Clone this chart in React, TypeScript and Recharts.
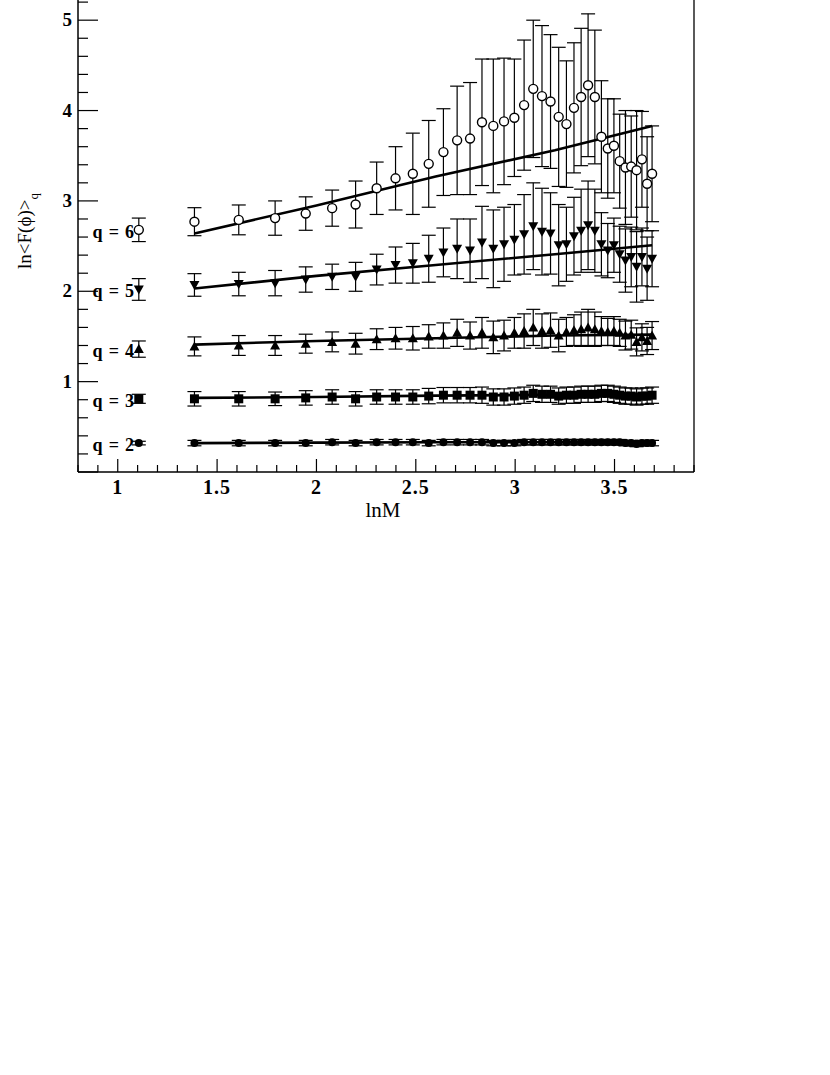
import { ComposedChart, Scatter, Line, XAxis, YAxis, ErrorBar, ReferenceLine } from 'recharts';

// lnM for M = 4 ... 40
const lnM = [1.386, 1.609, 1.792, 1.946, 2.079, 2.197, 2.303, 2.398, 2.485, 2.565, 2.639, 2.708, 2.773,
  2.833, 2.890, 2.944, 2.996, 3.045, 3.091, 3.135, 3.178, 3.219, 3.258, 3.296, 3.332, 3.367, 3.401,
  3.434, 3.466, 3.497, 3.526, 3.555, 3.584, 3.611, 3.638, 3.664, 3.689];

const q6 = [2.77, 2.79, 2.81, 2.86, 2.92, 2.96, 3.14, 3.25, 3.30, 3.41, 3.54, 3.67, 3.69, 3.87, 3.83, 3.88,
  3.92, 4.06, 4.24, 4.16, 4.10, 3.93, 3.85, 4.03, 4.15, 4.28, 4.15, 3.71, 3.58, 3.61, 3.44, 3.37, 3.38,
  3.34, 3.46, 3.19, 3.30];
const q6Err = [0.155, 0.165, 0.19, 0.185, 0.2, 0.26, 0.29, 0.35, 0.45, 0.48, 0.48, 0.6, 0.62, 0.7, 0.74, 0.7,
  0.65, 0.72, 0.76, 0.78, 0.74, 0.77, 0.7, 0.72, 0.76, 0.79, 0.74, 0.62, 0.55, 0.52, 0.52, 0.63, 0.56,
  0.66, 0.53, 0.52, 0.53];

const q5 = [2.07, 2.08, 2.09, 2.13, 2.16, 2.16, 2.24, 2.29, 2.31, 2.36, 2.43, 2.47, 2.45, 2.54, 2.47, 2.52,
  2.57, 2.63, 2.72, 2.66, 2.64, 2.51, 2.52, 2.61, 2.67, 2.73, 2.67, 2.52, 2.45, 2.51, 2.41, 2.34, 2.38,
  2.27, 2.38, 2.25, 2.36];
const q5Err = [0.125, 0.13, 0.14, 0.14, 0.14, 0.16, 0.17, 0.2, 0.22, 0.26, 0.27, 0.33, 0.35, 0.4, 0.43, 0.41,
  0.39, 0.44, 0.48, 0.48, 0.45, 0.45, 0.41, 0.43, 0.46, 0.49, 0.46, 0.35, 0.3, 0.3, 0.31, 0.35, 0.33,
  0.39, 0.32, 0.35, 0.31];

const q4 = [1.39, 1.40, 1.40, 1.42, 1.44, 1.42, 1.47, 1.48, 1.48, 1.50, 1.51, 1.54, 1.51, 1.54, 1.49, 1.51,
  1.54, 1.56, 1.60, 1.56, 1.57, 1.51, 1.55, 1.57, 1.58, 1.60, 1.58, 1.56, 1.55, 1.56, 1.54, 1.51, 1.52,
  1.44, 1.49, 1.45, 1.51];
const q4Err = [0.105, 0.11, 0.11, 0.105, 0.11, 0.115, 0.115, 0.12, 0.13, 0.13, 0.14, 0.15, 0.15, 0.17, 0.18,
  0.17, 0.17, 0.19, 0.2, 0.19, 0.19, 0.18, 0.16, 0.17, 0.19, 0.2, 0.19, 0.16, 0.15, 0.16, 0.15, 0.16,
  0.16, 0.155, 0.15, 0.15, 0.155];

const q3 = [0.81, 0.81, 0.81, 0.82, 0.83, 0.81, 0.83, 0.83, 0.83, 0.84, 0.85, 0.85, 0.85, 0.85, 0.83, 0.83,
  0.84, 0.85, 0.87, 0.86, 0.86, 0.84, 0.85, 0.85, 0.86, 0.86, 0.86, 0.87, 0.87, 0.86, 0.85, 0.84, 0.84,
  0.83, 0.84, 0.84, 0.85];
const q3Err = [0.08, 0.08, 0.075, 0.08, 0.08, 0.08, 0.08, 0.08, 0.08, 0.085, 0.085, 0.085, 0.085, 0.09, 0.09,
  0.09, 0.09, 0.09, 0.09, 0.09, 0.09, 0.09, 0.09, 0.09, 0.09, 0.09, 0.09, 0.09, 0.09, 0.09, 0.09, 0.09,
  0.09, 0.09, 0.09, 0.09, 0.09];

const q2 = [0.32, 0.32, 0.32, 0.32, 0.33, 0.32, 0.33, 0.33, 0.33, 0.32, 0.33, 0.33, 0.33, 0.33, 0.32, 0.32,
  0.32, 0.33, 0.33, 0.33, 0.33, 0.33, 0.33, 0.33, 0.33, 0.33, 0.33, 0.33, 0.33, 0.33, 0.33, 0.32, 0.32,
  0.31, 0.32, 0.32, 0.32];
const q2Err = [0.03, 0.03, 0.03, 0.03, 0.03, 0.03, 0.03, 0.03, 0.03, 0.03, 0.03, 0.03, 0.03, 0.03, 0.03,
  0.03, 0.03, 0.03, 0.03, 0.03, 0.03, 0.03, 0.03, 0.03, 0.03, 0.03, 0.03, 0.03, 0.03, 0.03, 0.03, 0.03,
  0.03, 0.03, 0.03, 0.03, 0.03];

// fitted curves
const fitX = [1.386, 2.0, 2.6, 3.2, 3.689];
const fit6 = [2.64, 2.95, 3.27, 3.56, 3.83];
const fit5 = [2.03, 2.17, 2.29, 2.41, 2.51];
const fit4 = [1.41, 1.45, 1.48, 1.51, 1.52];
const fit3 = [0.82, 0.83, 0.845, 0.855, 0.86];
const fit2 = [0.32, 0.325, 0.33, 0.33, 0.33];

// in-plot legend
const legendLabels = ['q = 6', 'q = 5', 'q = 4', 'q = 3', 'q = 2'];
const legendKinds = ['open', 'down', 'up', 'square', 'dot'];
const legendX = 1.106;
const legendY = [2.68, 2.02, 1.36, 0.81, 0.32];
const legendErr = [0.13, 0.12, 0.09, 0.05, 0.02];

const xTicks = [0.8, 0.9, 1, 1.1, 1.2, 1.3, 1.4, 1.5, 1.6, 1.7, 1.8, 1.9, 2, 2.1, 2.2, 2.3, 2.4, 2.5, 2.6,
  2.7, 2.8, 2.9, 3, 3.1, 3.2, 3.3, 3.4, 3.5, 3.6, 3.7, 3.8, 3.9];
const yTicks = [0, 0.2, 0.4, 0.6, 0.8, 1, 1.2, 1.4, 1.6, 1.8, 2, 2.2, 2.4, 2.6, 2.8, 3, 3.2, 3.4, 3.6, 3.8,
  4, 4.2, 4.4, 4.6, 4.8, 5, 5.2, 5.4];

const serif = '"Liberation Serif", "DejaVu Serif", serif';

const points = (ys: number[], es: number[]) => lnM.map((x, i) => ({ x, y: ys[i], e: es[i] }));
const line = (ys: number[]) => fitX.map((x, i) => ({ x, y: ys[i] }));

function Marker({ cx, cy, kind }: { cx: number; cy: number; kind: string }) {
  if (kind === 'open') return <circle cx={cx} cy={cy} r={4.5} fill="#fff" stroke="#000" strokeWidth={1.4} />;
  if (kind === 'down')
    return <polygon points={`${cx - 5},${cy - 4} ${cx + 5},${cy - 4} ${cx},${cy + 5}`} fill="#000" />;
  if (kind === 'up')
    return <polygon points={`${cx - 5},${cy + 4} ${cx + 5},${cy + 4} ${cx},${cy - 5}`} fill="#000" />;
  if (kind === 'square') return <rect x={cx - 4.5} y={cy - 4.5} width={9} height={9} fill="#000" />;
  return <circle cx={cx} cy={cy} r={4} fill="#000" />;
}

const shapeFor = (kind: string) => (p: any) => <Marker cx={p.cx} cy={p.cy} kind={kind} />;

const LegendShape = (p: any) => (
  <g>
    <Marker cx={p.cx} cy={p.cy} kind={p.payload.kind} />
    <text x={p.cx - 4} y={p.cy + 8} textAnchor="end" fontFamily={serif} fontWeight="bold" fontSize={18}
      letterSpacing={0.8} fill="#000">
      {p.payload.label}
    </text>
  </g>
);

const XTick = (p: any) => {
  const v = p.payload.value;
  const major = Math.abs(v * 2 - Math.round(v * 2)) < 1e-6;
  return (
    <g>
      <line x1={p.x} x2={p.x} y1={p.y} y2={p.y - (major ? 13 : 7)} stroke="#000" strokeWidth={1.2} />
      {major && (
        <text x={p.x} y={p.y + 22} textAnchor="middle" fontFamily={serif} fontWeight="bold" fontSize={20}
          letterSpacing={1} fill="#000">
          {String(v)}
        </text>
      )}
    </g>
  );
};

const YTick = (p: any) => {
  const v = p.payload.value;
  const major = Math.abs(v - Math.round(v)) < 1e-6;
  return (
    <g>
      <line x1={p.x} x2={p.x + (major ? 20 : 10)} y1={p.y} y2={p.y} stroke="#000" strokeWidth={1.2} />
      {major && v > 0 && (
        <text x={p.x - 6} y={p.y + 6} textAnchor="end" fontFamily={serif} fontWeight="bold" fontSize={19} fill="#000">
          {String(v)}
        </text>
      )}
    </g>
  );
};

const series = [
  { data: points(q6, q6Err), kind: 'open' },
  { data: points(q5, q5Err), kind: 'down' },
  { data: points(q4, q4Err), kind: 'up' },
  { data: points(q3, q3Err), kind: 'square' },
  { data: points(q2, q2Err), kind: 'dot' },
];
const fits = [fit6, fit5, fit4, fit3, fit2];
const legendRows = legendLabels.map((label, i) => ({
  x: legendX, y: legendY[i], e: legendErr[i], label, kind: legendKinds[i],
}));

export default function App() {
  return (
    <div style={{ position: 'absolute', left: 0, top: -40, background: '#fff' }}>
      <ComposedChart width={830} height={600} margin={{ top: 15, right: 136, bottom: 48, left: 0 }}>
        <XAxis
          type="number"
          dataKey="x"
          domain={[0.8, 3.9]}
          allowDataOverflow
          ticks={xTicks}
          interval={0}
          tick={<XTick />}
          tickLine={false}
          tickSize={0}
          tickMargin={0}
          axisLine={{ stroke: '#000', strokeWidth: 1.5 }}
          height={40}
        />
        <YAxis
          type="number"
          dataKey="y"
          domain={[0, 5.5]}
          allowDataOverflow
          ticks={yTicks}
          interval={0}
          tick={<YTick />}
          tickLine={false}
          tickSize={0}
          tickMargin={0}
          axisLine={{ stroke: '#000', strokeWidth: 1.5 }}
          width={78}
        />
        <ReferenceLine x={3.9} stroke="#000" strokeWidth={1.3} />
        <ReferenceLine y={5.5} stroke="#000" strokeWidth={1.3} />
        {series.map((s, i) => (
          <Scatter key={i} data={s.data} shape={shapeFor(s.kind)} isAnimationActive={false}>
            <ErrorBar dataKey="e" direction="y" width={7} stroke="#000" strokeWidth={1.2} />
          </Scatter>
        ))}
        <Scatter data={legendRows} shape={LegendShape} isAnimationActive={false}>
          <ErrorBar dataKey="e" direction="y" width={7} stroke="#000" strokeWidth={1.2} />
        </Scatter>
        {fits.map((f, i) => (
          <Line key={i} data={line(f)} dataKey="y" stroke="#000" strokeWidth={2.6} dot={false} isAnimationActive={false} />
        ))}
        <text x={383} y={557} textAnchor="middle" fontFamily={serif} fontSize={21} fill="#000">lnM</text>
        <text
          x={31}
          y={271}
          transform="rotate(-90, 31, 271)"
          textAnchor="middle"
          fontFamily={serif}
          fontSize={19}
          fill="#000"
        >
          ln&lt;F(ϕ)&gt;<tspan dy={7} fontSize={13}>q</tspan>
        </text>
      </ComposedChart>
    </div>
  );
}
